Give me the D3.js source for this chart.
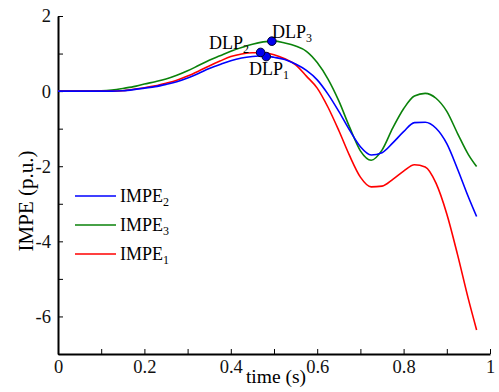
<!DOCTYPE html>
<html lang="en">
<head>
    <meta charset="UTF-8">
    <script src="https://d3js.org/d3.v7.min.js"></script>
    <title>IMPE</title>
    <style>
        body { margin: 0; background: #fff; }
        .line { fill: none; stroke-width: 1.6; }
        .axis path, .axis line { stroke: #000; }
        .axis path { stroke-width: 2; }
    </style>
</head>
<body>
<div id="chart"></div>
<script>
    // Données
    const temps = [0, 0.05, 0.1, 0.125, 0.15, 0.175, 0.2, 0.225, 0.25, 0.275, 0.3, 0.325, 0.35, 0.375, 0.4,
        0.425, 0.45, 0.475, 0.5, 0.525, 0.55, 0.575, 0.6, 0.625, 0.65, 0.675, 0.7, 0.725, 0.75, 0.775, 0.8,
        0.825, 0.85, 0.875, 0.9, 0.925, 0.95, 0.969];

    const impe1 = [0, 0, 0, 0, 0.01, 0.05, 0.09, 0.14, 0.21, 0.29, 0.40, 0.53, 0.67, 0.80, 0.92,
        0.99, 1.02, 1.02, 0.97, 0.86, 0.70, 0.40, 0.08, -0.43, -1.05, -1.72, -2.29, -2.55, -2.53, -2.35, -2.13,
        -1.96, -2.02, -2.45, -3.27, -4.36, -5.54, -6.36];
    const impe2 = [0, 0, 0, 0, 0.01, 0.04, 0.08, 0.12, 0.18, 0.25, 0.35, 0.47, 0.60, 0.71, 0.81,
        0.88, 0.92, 0.94, 0.90, 0.84, 0.72, 0.55, 0.30, -0.08, -0.54, -1.04, -1.48, -1.70, -1.64, -1.38, -1.08,
        -0.84, -0.83, -0.99, -1.40, -2.08, -2.82, -3.34];
    const impe3 = [0, 0, 0.01, 0.03, 0.07, 0.12, 0.19, 0.25, 0.32, 0.42, 0.54, 0.68, 0.82, 0.94, 1.06,
        1.16, 1.25, 1.31, 1.33, 1.28, 1.20, 1.06, 0.76, 0.32, -0.26, -0.96, -1.59, -1.84, -1.57, -0.98, -0.47,
        -0.13, -0.06, -0.19, -0.54, -1.13, -1.69, -2.01];

    // points DLP
    const dlpNoms = ["1", "2", "3"];
    const dlpTemps = [0.482, 0.469, 0.495];
    const dlpValeurs = [0.92, 1.03, 1.33];

    const xTicks = [0, 0.1, 0.2, 0.3, 0.4, 0.5, 0.6, 0.7, 0.8, 0.9, 1];
    const yTicks = [-7, -6, -5, -4, -3, -2, -1, 0, 1, 2];

    const police = "Liberation Serif";
    const width = 499;
    const height = 392;

    const svg = d3.select("#chart").append("svg")
        .attr("width", width)
        .attr("height", height)
        .style("font-family", police);

    const x = d3.scaleLinear().domain([0, 1]).range([58, 490]);
    const y = d3.scaleLinear().domain([-7, 2]).range([354, 16]);

    // Axes (graduations vers l'intérieur)
    const xAxis = d3.axisBottom(x)
        .tickValues(xTicks)
        .tickSize(-5)
        .tickSizeOuter(0)
        .tickPadding(6)
        .tickFormat(d => (Math.round(d * 10) % 2 === 0) ? d3.format("")(d) : "");

    const yAxis = d3.axisLeft(y)
        .tickValues(yTicks)
        .tickSize(-5)
        .tickSizeOuter(0)
        .tickPadding(7)
        .tickFormat(d => d % 2 === 0 ? d : "");

    svg.append("g")
        .attr("class", "axis")
        .attr("transform", `translate(0,${y(-7)})`)
        .call(xAxis);

    svg.append("g")
        .attr("class", "axis")
        .attr("transform", `translate(${x(0)},0)`)
        .call(yAxis);

    svg.selectAll(".axis").attr("font-family", null).attr("font-size", null);
    svg.selectAll(".axis text")
        .attr("font-family", police)
        .attr("font-size", 18.5)
        .attr("fill", "#111");

    svg.append("text")
        .attr("x", 276)
        .attr("y", 383)
        .attr("text-anchor", "middle")
        .attr("font-family", police)
        .attr("font-size", 19.5)
        .text("time (s)");

    svg.append("text")
        .attr("transform", "translate(33,201) rotate(-90)")
        .attr("text-anchor", "middle")
        .attr("font-family", police)
        .attr("font-size", 21)
        .text("IMPE (p.u.)");

    // Courbes
    const series = [
        { nom: "3", valeurs: impe3, couleur: "#0a820a" },
        { nom: "1", valeurs: impe1, couleur: "#ff0000" },
        { nom: "2", valeurs: impe2, couleur: "#0000ff" }
    ];

    const line = d3.line()
        .x((d, i) => x(temps[i]))
        .y(d => y(d))
        .curve(d3.curveMonotoneX);

    series.forEach(s => {
        svg.append("path")
            .datum(s.valeurs)
            .attr("class", "line")
            .attr("stroke", s.couleur)
            .attr("d", line);
    });

    // Points DLP
    svg.selectAll(".dlp")
        .data(dlpTemps)
        .join("circle")
        .attr("class", "dlp")
        .attr("cx", d => x(d))
        .attr("cy", (d, i) => y(dlpValeurs[i]))
        .attr("r", 4.3)
        .attr("fill", "#0000ee")
        .attr("stroke", "#000033")
        .attr("stroke-width", 1);

    // étiquettes DLP
    const dlpLabels = [
        { i: 0, x: 249, y: 75 },
        { i: 1, x: 209, y: 49 },
        { i: 2, x: 272, y: 38 }
    ];
    dlpLabels.forEach(l => {
        const t = svg.append("text")
            .attr("x", l.x)
            .attr("y", l.y)
            .attr("font-family", police)
            .attr("font-size", 18);
        t.append("tspan").text("DLP");
        t.append("tspan").attr("dy", 4).attr("font-size", 12).text(dlpNoms[l.i]);
    });

    // Légende
    const legende = [
        { nom: "2", couleur: "#0000ff" },
        { nom: "3", couleur: "#0a820a" },
        { nom: "1", couleur: "#ff0000" }
    ];
    legende.forEach((d, i) => {
        const ly = 196 + i * 29;
        svg.append("line")
            .attr("x1", 75).attr("x2", 116)
            .attr("y1", ly).attr("y2", ly)
            .attr("stroke", d.couleur)
            .attr("stroke-width", 1.6);
        const t = svg.append("text")
            .attr("x", 120)
            .attr("y", ly + 6)
            .attr("font-family", police)
            .attr("font-size", 18);
        t.append("tspan").text("IMPE");
        t.append("tspan").attr("dy", 4).attr("font-size", 12).text(d.nom);
    });
</script>
</body>
</html>
